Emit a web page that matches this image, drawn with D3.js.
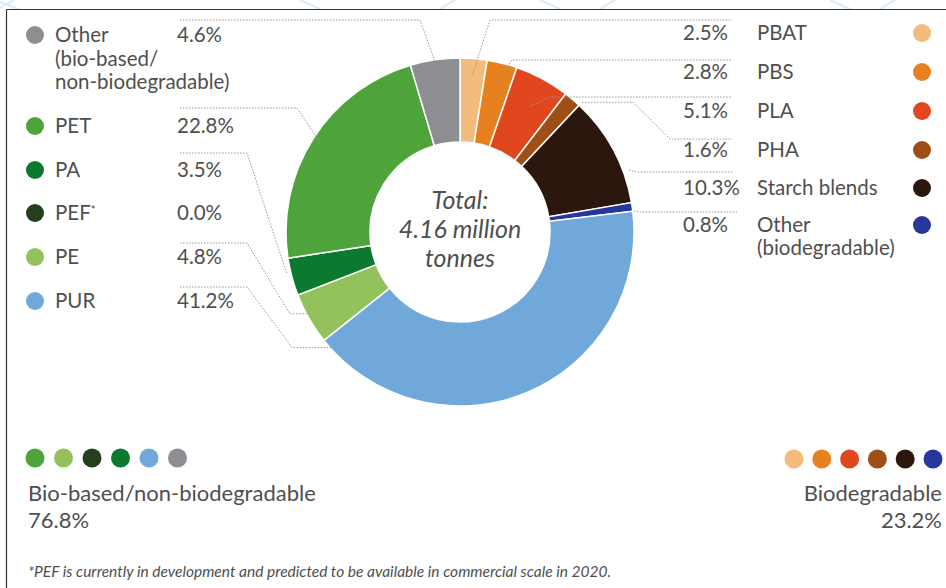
<!DOCTYPE html>
<html>
<head>
<meta charset="utf-8">
<script src="https://cdn.jsdelivr.net/npm/d3@7/dist/d3.min.js"></script>
<style>
  html, body { margin: 0; padding: 0; background: #fff; }
  svg { display: block; }
  text { font-family: Lato, "Open Sans", sans-serif; fill: #4f4f4f; }
</style>
</head>
<body>
<svg id="chart" width="946" height="588"></svg>
<script>
// ---------- DATA ----------
// slices in clockwise order starting at 12 o'clock
const sliceNames = ["PBAT", "PBS", "PLA", "PHA", "Starch blends", "Other (biodegradable)",
                    "PUR", "PE", "PEF", "PA", "PET", "Other (bio-based/non-biodegradable)"];
const sliceValues = [2.5, 2.8, 5.1, 1.6, 10.3, 0.8, 41.2, 4.8, 0.0, 3.5, 22.8, 4.6];
const sliceColors = ["#f4bc7c", "#e7801f", "#e1471f", "#9e4f17", "#2b170d", "#27379a",
                     "#6fa8d9", "#93c15c", "#243f1e", "#0b7a2f", "#4ea43a", "#8d8e92"];

// left legend (bio-based / non-biodegradable)
const leftLegendNames = ["Other (bio-based/non-biodegradable)", "PET", "PA", "PEF", "PE", "PUR"];
const leftLegendLabels = [["Other", "(bio-based/", "non-biodegradable)"], ["PET"], ["PA"], ["PEF"], ["PE"], ["PUR"]];
// right legend (biodegradable)
const rightLegendNames = ["PBAT", "PBS", "PLA", "PHA", "Starch blends", "Other (biodegradable)"];
const rightLegendLabels = [["PBAT"], ["PBS"], ["PLA"], ["PHA"], ["Starch blends"], ["Other", "(biodegradable)"]];

// group summaries
const groupNames = ["Bio-based/non-biodegradable", "Biodegradable"];
const groupValues = [76.8, 23.2];
const groupDotNames = [
  ["PET", "PE", "PEF", "PA", "PUR", "Other (bio-based/non-biodegradable)"],
  ["PBAT", "PBS", "PLA", "PHA", "Starch blends", "Other (biodegradable)"]
];

const centerLines = ["Total:", "4.16 million", "tonnes"];
const footnote = "*PEF is currently in development and predicted to be available in commercial scale in 2020.";

// ---------- LAYOUT ----------
const W = 946, H = 588;
const cx = 460, cy = 232, rOuter = 174, rInner = 90;
const L = { dotX: 35, labelX: 55, pctX: 177, rows: [35, 126, 170, 213, 257, 301], lineH: 23.5 };
const R = { pctX: 683, lineEnd: 732, labelX: 757, dotX: 922, rows: [33, 72, 111, 150, 188, 225], lineH: 23 };
const fs = 20.5;

// leader line geometry: anchor = point on slice (fraction t along slice, radius r)
const leaders = {
  "Other (bio-based/non-biodegradable)": { side: "L", t: 0.55, r: 160, rowY: 20, elbowX: 420 },
  "PET":   { side: "L", t: 0.5, r: 165, rowY: 108, elbowX: 297 },
  "PA":    { side: "L", t: 0.6, r: 178, rowY: 153, elbowX: 247 },
  "PE":    { side: "L", t: 0.5, r: 164, rowY: 243, elbowX: 247, tail: 28 },
  "PUR":   { side: "L", t: 0.96, r: 165, rowY: 287, elbowX: 247, tail: 50 },
  "PBAT":  { side: "R", t: 0.5, r: 157, rowY: 20, elbowX: 490 },
  "PBS":   { side: "R", t: 0.5, r: 155, rowY: 60, elbowX: 512 },
  "PLA":   { side: "R", t: 0.55, r: 144, rowY: 97, elbowX: 550 },
  "PHA":   { side: "R", t: 1.0, r: 178, rowY: 139, elbowX: 670, knee: 633 },
  "Starch blends": { side: "R", t: 0.72, r: 180, rowY: 172, elbowX: 637 },
  "Other (biodegradable)": { side: "R", t: 1.0, r: 175, rowY: 212, elbowX: 640, end: 737 }
};

const svg = d3.select("#chart");
const color = d3.scaleOrdinal().domain(sliceNames).range(sliceColors);
const fmt = d => d3.format(".1f")(d) + "%";
const valueOf = name => sliceValues[sliceNames.indexOf(name)];

// faint background ornament above frame
const deco = svg.append("g").attr("fill", "none").attr("stroke", "#d9edf8").attr("stroke-width", 2);
[[[0, 2], [18, 9]], [[0, 8], [14, 0]], [[300, 0], [320, 9]], [[440, 9], [455, 0]], [[540, 0], [560, 9]],
 [[600, 9], [615, 0]], [[830, 0], [850, 9]], [[880, 9], [895, 0]]].forEach(p => deco.append("path").attr("d", d3.line()(p)));

// frame
svg.append("line").attr("x1", 6.5).attr("x2", W).attr("y1", 9.5).attr("y2", 9.5).attr("stroke", "#333").attr("stroke-width", 1.2);
svg.append("line").attr("x1", 6.5).attr("x2", 6.5).attr("y1", 9.5).attr("y2", H).attr("stroke", "#333").attr("stroke-width", 1.2);

// ---------- DONUT ----------
const pie = d3.pie().sort(null).value(d => d.v).startAngle(0).endAngle(2 * Math.PI);
const arcs = pie(sliceNames.map((n, i) => ({ n, v: sliceValues[i] })));
const arc = d3.arc().innerRadius(rInner).outerRadius(rOuter);
const g = svg.append("g").attr("transform", `translate(${cx},${cy})`);
g.selectAll("path.slice").data(arcs).join("path")
  .attr("class", "slice")
  .attr("d", arc)
  .attr("fill", d => color(d.data.n))
  .attr("stroke", d => d.data.v > 0 ? "#fff" : "none")
  .attr("stroke-width", 1.5);

// center text
const ct = svg.append("text").attr("text-anchor", "middle").attr("font-style", "italic")
  .attr("font-size", 25).attr("fill", "#3a3a3a");
centerLines.forEach((s, i) => ct.append("tspan").attr("x", cx).attr("y", 209 + i * 29).text(s));

// ---------- LEADER LINES ----------
function anchorPoint(name, t, r) {
  const a = arcs.find(d => d.data.n === name);
  const ang = a.startAngle + (a.endAngle - a.startAngle) * t;
  return [cx + r * Math.sin(ang), cy - r * Math.cos(ang)];
}
const lg = svg.append("g").attr("fill", "none").attr("stroke", "#9a9a9a")
  .attr("stroke-width", 1).attr("stroke-dasharray", "1.5,1.5");
Object.entries(leaders).forEach(([name, c]) => {
  const [ax, ay] = anchorPoint(name, c.t, c.r);
  let pts;
  if (c.side === "L") {
    pts = [[180, c.rowY], [c.elbowX, c.rowY]];
    if (c.tail) pts.push([ax - c.tail, ay]);
    pts.push([ax, ay]);
  } else {
    pts = [[ax, ay]];
    if (c.knee) pts.push([c.knee, ay]);
    pts.push([c.elbowX, c.rowY], [c.end || R.lineEnd, c.rowY]);
  }
  lg.append("path").attr("d", d3.line()(pts));
});

// ---------- LEFT LEGEND ----------
leftLegendNames.forEach((name, i) => {
  const y = L.rows[i];
  svg.append("circle").attr("cx", L.dotX).attr("cy", y).attr("r", 9).attr("fill", color(name));
  const t = svg.append("text").attr("font-size", fs);
  leftLegendLabels[i].forEach((s, j) => {
    t.append("tspan").attr("x", L.labelX).attr("y", y + j * L.lineH).attr("dy", "0.35em").text(s);
    if (name === "PEF") {
      t.append("tspan").attr("font-size", 11).attr("dy", "-0.6em").text("*");
    }
  });
  svg.append("text").attr("x", L.pctX).attr("y", y).attr("dy", "0.35em").attr("font-size", fs).text(fmt(valueOf(name)));
});

// ---------- RIGHT LEGEND ----------
rightLegendNames.forEach((name, i) => {
  const y = R.rows[i];
  svg.append("circle").attr("cx", R.dotX).attr("cy", y).attr("r", 9).attr("fill", color(name));
  const t = svg.append("text").attr("font-size", fs);
  rightLegendLabels[i].forEach((s, j) => t.append("tspan").attr("x", R.labelX).attr("y", y + j * R.lineH).attr("dy", "0.35em").text(s));
  svg.append("text").attr("x", R.pctX).attr("y", y).attr("dy", "0.35em")
    .attr("font-size", fs).text(fmt(valueOf(name)));
});

// ---------- GROUP SUMMARY ----------
const dotStep = 28.5;
groupDotNames[0].forEach((n, i) => svg.append("circle").attr("cx", 35 + i * dotStep).attr("cy", 458).attr("r", 9.5).attr("fill", color(n)));
groupDotNames[1].forEach((n, i) => svg.append("circle").attr("cx", 933 - (5 - i) * 27.8).attr("cy", 459).attr("r", 9.5).attr("fill", color(n)));

const gfs = 22;
svg.append("text").attr("x", 28).attr("y", 501).attr("font-size", gfs).text(groupNames[0]);
svg.append("text").attr("x", 28).attr("y", 528).attr("font-size", gfs).text(fmt(groupValues[0]));
svg.append("text").attr("x", 942).attr("y", 501).attr("font-size", gfs).attr("text-anchor", "end").text(groupNames[1]);
svg.append("text").attr("x", 942).attr("y", 528).attr("font-size", gfs).attr("text-anchor", "end").text(fmt(groupValues[1]));

svg.append("text").attr("x", 28).attr("y", 577).attr("font-size", 15.5).attr("font-style", "italic")
  .attr("fill", "#333").text(footnote);
</script>
</body>
</html>
